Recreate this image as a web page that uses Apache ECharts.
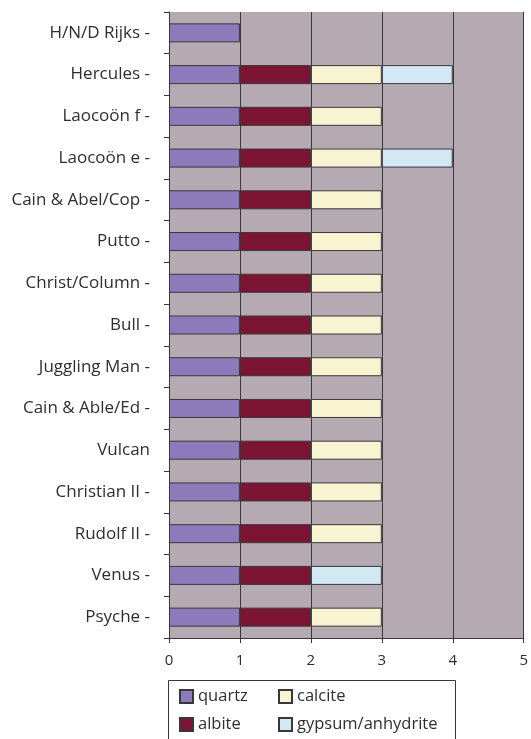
<!DOCTYPE html>
<html>
<head>
<meta charset="utf-8">
<script src="https://cdn.jsdelivr.net/npm/echarts@6/dist/echarts.min.js"></script>
<style>
html,body{margin:0;padding:0;background:#fff;}
#c{width:531px;height:739px;}
</style>
</head>
<body>
<div id="c"></div>
<script>
const categories = ["H/N/D Rijks -","Hercules -","Laocoön f -","Laocoön e -","Cain & Abel/Cop -","Putto -","Christ/Column -","Bull -","Juggling Man -","Cain & Able/Ed -","Vulcan","Christian II -","Rudolf II -","Venus -","Psyche -"];
const quartz  = [1,1,1,1,1,1,1,1,1,1,1,1,1,1,1];
const albite  = [null,1,1,1,1,1,1,1,1,1,1,1,1,1,1];
const calcite = [null,1,1,1,1,1,1,1,1,1,1,1,1,null,1];
const gypsum  = [null,1,null,1,null,null,null,null,null,null,null,null,null,1,null];
const xTicks = [0,1,2,3,4,5];
const seriesNames = ['quartz','albite','calcite','gypsum/anhydrite'];

const colors = ['#8d7aba','#7c1434','#f8f4d2','#d2e8f3'];
const font = '"Open Sans", sans-serif';
const txt = '#2e2e2e';
const line = '#3a363c';

function mk(i, data){
  return {name:seriesNames[i], type:'bar', stack:'s', data:data, barWidth:19,
    itemStyle:{color:colors[i], borderColor:line, borderWidth:1}};
}
function lg(name, left, top){
  return {data:[name], left:left, top:top, padding:0, itemGap:0,
    icon:'rect', itemWidth:13, itemHeight:13,
    textStyle:{color:txt, fontFamily:font, fontSize:16.5}};
}
const chart = echarts.init(document.getElementById('c'), null, {renderer:'canvas'});
chart.setOption({
  animation:false,
  backgroundColor:'#ffffff',
  grid:{left:169, right:1.5, top:12, bottom:101, show:true, backgroundColor:'#b5a9b2', borderWidth:0},
  xAxis:{type:'value', min:xTicks[0], max:xTicks[xTicks.length-1], interval:1,
    axisLine:{show:true, lineStyle:{color:line, width:1}},
    axisTick:{show:true, length:5, lineStyle:{color:line}},
    axisLabel:{color:txt, fontFamily:font, fontSize:15, margin:15},
    splitLine:{show:true, lineStyle:{color:line, width:1}}},
  yAxis:{type:'category', inverse:true, data:categories,
    axisLine:{show:true, lineStyle:{color:line, width:1}},
    axisTick:{show:true, length:5, lineStyle:{color:line}},
    axisLabel:{color:txt, fontFamily:font, fontSize:17, margin:19}},
  legend:[
    lg(seriesNames[0], 179, 688),
    lg(seriesNames[1], 179, 716),
    lg(seriesNames[2], 278, 688),
    lg(seriesNames[3], 278, 716)
  ],
  graphic:[{type:'rect', shape:{x:168.5, y:680.5, width:287, height:70},
    style:{fill:'none', stroke:line, lineWidth:1}}],
  series:[ mk(0, quartz), mk(1, albite), mk(2, calcite), mk(3, gypsum) ]
});
</script>
</body>
</html>
